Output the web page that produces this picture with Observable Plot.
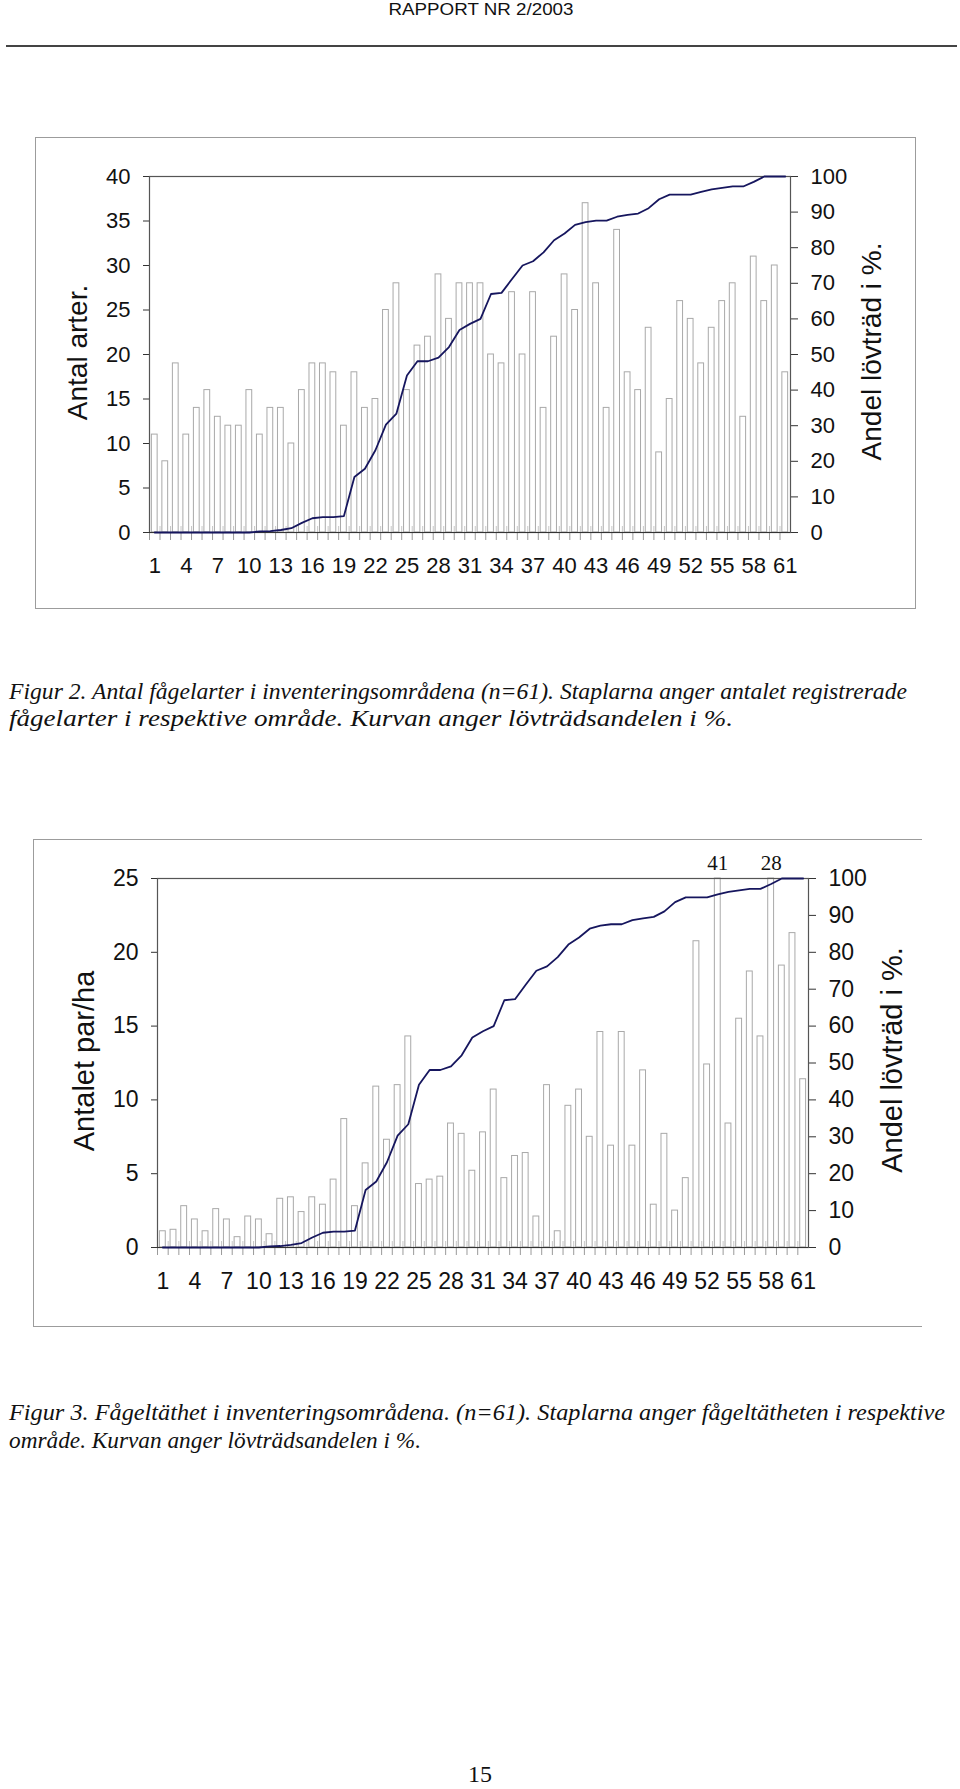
<!DOCTYPE html>
<html>
<head>
<meta charset="utf-8">
<script src="https://cdn.jsdelivr.net/npm/d3@7"></script>
<script src="https://cdn.jsdelivr.net/npm/@observablehq/plot@0.6"></script>
<style>
  body { margin: 0; background: #fff; }
  #page { position: relative; width: 960px; height: 1789px; overflow: hidden; background: #fff; }
  .abs { position: absolute; }
</style>
</head>
<body>
<div id="page">
  <svg class="abs" style="left:0;top:0" width="960" height="1789">
    <text x="481" y="15" text-anchor="middle" font-family="Arial, 'Liberation Sans', sans-serif" font-size="17" fill="#111" textLength="185" lengthAdjust="spacingAndGlyphs">RAPPORT NR 2/2003</text>
    <line x1="6" x2="957" y1="46" y2="46" stroke="#444" stroke-width="2"/>
    <g font-family="'Liberation Serif', 'Times New Roman', serif" font-style="italic" font-size="23" fill="#111">
      <text x="9" y="699" textLength="898" lengthAdjust="spacingAndGlyphs">Figur 2.  Antal fågelarter i inventeringsområdena (n=61). Staplarna anger antalet registrerade</text>
      <text x="9" y="726" textLength="724" lengthAdjust="spacingAndGlyphs">fågelarter i respektive område. Kurvan anger lövträdsandelen i %.</text>
      <text x="9" y="1420" textLength="936" lengthAdjust="spacingAndGlyphs">Figur 3. Fågeltäthet i inventeringsområdena. (n=61). Staplarna anger fågeltätheten i respektive</text>
      <text x="9" y="1448" textLength="412" lengthAdjust="spacingAndGlyphs">område. Kurvan anger lövträdsandelen i %.</text>
    </g>
    <text x="480" y="1782" text-anchor="middle" font-family="'Liberation Serif', 'Times New Roman', serif" font-size="24" fill="#111">15</text>
  </svg>
  <div id="c1" class="abs" style="left:35px;top:137px"></div>
  <div class="abs" style="left:35px;top:137px;width:881px;height:472px;border:1.5px solid #9c9c9c;box-sizing:border-box;pointer-events:none"></div>
  <div id="c2" class="abs" style="left:33px;top:839px"></div>
  <div class="abs" style="left:33px;top:839px;width:889px;height:488px;border-top:1.5px solid #9c9c9c;border-left:1.5px solid #9c9c9c;border-bottom:1.5px solid #9c9c9c;box-sizing:border-box;pointer-events:none"></div>
</div>
<script>
// ---- data ----
const areas = d3.range(1, 62);                 // inventory areas 1..61
const xTickLabels = d3.range(1, 62, 3);        // 1, 4, 7, ... 61
const speciesCount = [11, 8, 19, 11, 14, 16, 13, 12, 12, 16, 11, 14, 14, 10, 16, 19, 19, 18, 12, 18,
  14, 15, 25, 28, 16, 21, 22, 29, 24, 28, 28, 28, 20, 19, 27, 20, 27, 14, 22, 29,
  25, 37, 28, 14, 34, 18, 16, 23, 9, 15, 26, 24, 19, 23, 26, 28, 13, 31, 26, 30, 18];
const pairsPerHa = [1.1, 1.2, 2.8, 1.9, 1.1, 2.6, 1.9, 0.7, 2.1, 1.9, 0.9, 3.3, 3.4, 2.4, 3.4, 2.9, 4.6, 8.7, 2.8, 5.7,
  10.9, 7.3, 11.0, 14.3, 4.3, 4.6, 4.8, 8.4, 7.7, 5.2, 7.8, 10.7, 4.7, 6.2, 6.4, 2.1, 11.0, 1.1, 9.6, 10.7,
  7.5, 14.6, 6.9, 14.6, 6.9, 12.0, 2.9, 7.7, 2.5, 4.7, 20.75, 12.4, 41, 8.4, 15.5, 18.7, 14.3, 28, 19.1, 21.3, 11.4];
const deciduousPct = [0, 0, 0, 0, 0, 0, 0, 0, 0, 0, 0.3, 0.4, 0.7, 1.2, 2.7, 4.0, 4.3, 4.3, 4.6, 15.6,
  17.9, 23.1, 30.3, 33.4, 44.1, 48.1, 48.1, 49.1, 52.1, 56.9, 58.6, 60.0, 67.0, 67.3, 71.2, 75.0, 76.2, 78.7, 82.1, 84.0,
  86.4, 87.2, 87.6, 87.6, 88.7, 89.2, 89.6, 91.1, 93.6, 94.9, 94.9, 94.9, 95.7, 96.4, 96.8, 97.2, 97.2, 98.5, 100, 100, 100];
const leftTicks1 = [0, 5, 10, 15, 20, 25, 30, 35, 40];
const leftTicks2 = [0, 5, 10, 15, 20, 25];
const pctTicks = [0, 10, 20, 30, 40, 50, 60, 70, 80, 90, 100];
const yTitle1 = "Antal arter.";
const yTitle2 = "Antalet par/ha";
const rightTitle = "Andel lövträd i %.";

// ---- styles ----
const sans = "Arial, 'Liberation Sans', sans-serif";
const serif = "'Liberation Serif', 'Times New Roman', serif";
const barStroke = "#a9a9a9";
const lineColor = "#16165e";
const axisColor = "#333";

function makeChart({values, yMax, yTicks, title, w, h, ml, mr, mt, mb, fs, tfs, titleDxL, titleDxR, overflowLabels}) {
  const rows = areas.map((a, i) => ({area: a, value: values[i], pct: deciduousPct[i]}));
  const k = yMax / 100;
  const step = (w - ml - mr) / areas.length;
  const marks = [
    Plot.barY(rows, {x: "area", y: d => Math.min(d.value, yMax), fill: "white", stroke: barStroke, strokeWidth: 1}),
    Plot.axisX({ticks: areas, tickSize: 8, tickFormat: () => "", label: null, dx: -step / 2, stroke: "#9a9a9a"}),
    Plot.axisX({ticks: areas, tickSize: -6, tickFormat: () => "", label: null, dx: -step / 2, stroke: "#c8c8c8"}),
    Plot.axisX({ticks: xTickLabels, tickSize: 0, tickPadding: 25, label: null, fontSize: fs, fill: "#111"}),
    Plot.axisY({anchor: "left", ticks: yTicks, tickSize: 6, tickPadding: 13, label: null, fontSize: fs, stroke: axisColor, fill: "#111"}),
    Plot.axisY({anchor: "right", ticks: pctTicks.map(p => p * k), tickFormat: v => Math.round(v / k), tickSize: 7, tickPadding: 13, label: null, fontSize: fs, stroke: axisColor, fill: "#111"}),
    Plot.frame({stroke: "#555", strokeWidth: 1.2}),
    Plot.ruleY([0], {stroke: axisColor, strokeWidth: 1.2}),
    Plot.lineY(rows, {x: "area", y: d => d.pct * k, stroke: lineColor, strokeWidth: 1.8}),
    Plot.text([title], {frameAnchor: "left", textAnchor: "middle", lineAnchor: "middle", dx: titleDxL, dy: -2, rotate: -90, fontSize: tfs, fill: "#111"}),
    Plot.text([rightTitle], {frameAnchor: "right", textAnchor: "middle", lineAnchor: "middle", dx: titleDxR, dy: -3, rotate: -90, fontSize: tfs, fill: "#111"})
  ];
  if (overflowLabels) {
    marks.push(Plot.text(rows.filter(d => d.value > yMax), {x: "area", y: () => yMax, text: d => String(d.value), dy: -15, fontFamily: serif, fontSize: 21, fill: "#111"}));
  }
  return Plot.plot({
    width: w, height: h,
    marginLeft: ml, marginRight: mr, marginTop: mt, marginBottom: mb,
    style: {fontFamily: sans, fontSize: fs + "px", background: "transparent", overflow: "visible", color: "#111"},
    x: {type: "band", domain: areas, paddingInner: 0.45, paddingOuter: 0.225, axis: null},
    y: {domain: [0, yMax], axis: null},
    marks
  });
}

document.getElementById("c1").append(makeChart({
  values: speciesCount, yMax: 40, yTicks: leftTicks1, title: yTitle1,
  w: 881, h: 472, ml: 114, mr: 126, mt: 39, mb: 77, fs: 22, tfs: 28, titleDxL: -71.5, titleDxR: 82, overflowLabels: false
}));
document.getElementById("c2").append(makeChart({
  values: pairsPerHa, yMax: 25, yTicks: leftTicks2, title: yTitle2,
  w: 889, h: 488, ml: 124, mr: 114, mt: 39, mb: 80, fs: 23, tfs: 29, titleDxL: -73, titleDxR: 84, overflowLabels: true
}));
</script>
</body>
</html>
